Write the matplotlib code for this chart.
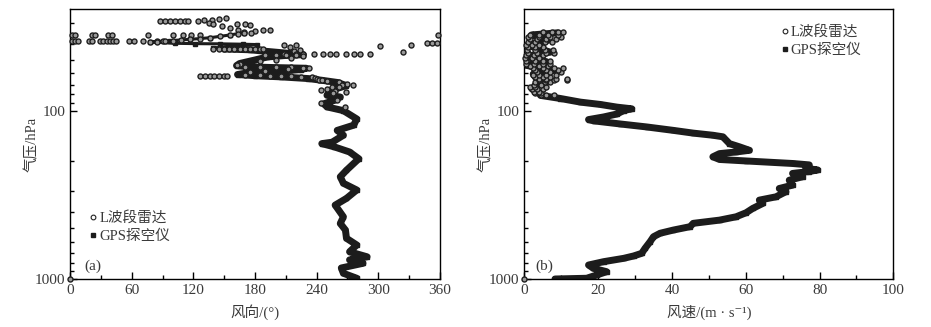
import numpy as np
import matplotlib
matplotlib.use("Agg")
import matplotlib.pyplot as plt
from matplotlib.ticker import FixedLocator, NullFormatter
from matplotlib.lines import Line2D

plt.rcParams['font.family'] = ['Liberation Serif', 'DejaVu Serif', 'Noto Sans CJK SC']

# ---- (a) wind direction ----
# GPS main band (thick)
gps_p_a = [1000, 990, 925, 860, 807, 770, 738, 689, 628, 573, 512, 468, 427, 364, 332, 296, 270,
           247, 226, 193, 176, 164, 157, 154, 140, 131, 122, 112, 100, 95, 91, 87, 83, 81, 76, 71,
           68, 66, 64.5, 63, 62, 61, 60, 58.5, 57, 56, 55.5, 55, 54, 52.5, 50, 48, 47, 46.5, 45.5,
           44.5, 43.5, 43]
gps_dir_a = [276, 279, 266, 264, 285, 272, 289, 272, 279, 269, 268, 263, 266, 258, 269, 279, 266,
             263, 269, 281, 272, 257, 245, 255, 266, 260, 276, 279, 266, 250, 247, 257, 263, 250,
             253, 269, 260, 245, 232, 205, 180, 163, 170, 200, 225, 230, 200, 175, 162, 165, 180,
             192, 210, 227, 210, 192, 175, 150]
# GPS upper part (thin)
gps_top_p_a = [43, 42.5, 41.5, 40.5, 40.3, 40.1, 40, 39.8, 39.1, 38.4, 37.7, 36.9, 35.5, 34.4]
gps_top_dir_a = [150, 139, 160, 182, 168, 146, 122, 102, 78, 97, 117, 136, 156, 169]

radar_p_a = [1000,
             29.5, 29.5, 29.5, 29.5, 29.5, 29.5, 29.5, 29.5,
             28.3, 28.5, 28.8, 29, 30, 30.5, 31.5, 32.5, 33.2, 34.1, 33.5, 33.3, 33, 30.5, 30.5, 31, 34.5,
             35.7, 35.7, 35.7, 35.7, 35.7, 35.7, 35.7, 35.7, 35.7, 35.7, 35.7, 35.5,
             38.8, 38.8, 38.8, 38.8, 38.8, 38.8, 38.8, 38.8, 38.8, 38.8, 38.8, 38.8, 38.8, 38.8, 38.6, 38.6,
             39.1, 38.9, 38.7, 38.4, 38.1, 37.7, 37.3, 36.9, 36.2, 35.5, 35, 34.4,
             39.7, 39.5, 39.7, 40.9, 41.2, 44.9, 40.9, 40.9, 42, 44, 43.5,
             45.9, 45.9, 45.9, 45.9, 45.9, 45.9, 45.9, 45.9, 45.9, 45.9, 45.9,
             43.3, 43.3, 43.3, 43.3, 43.3, 43.3, 43.3, 43.3, 43.3, 43.3, 43.3,
             62, 62, 62, 62, 62, 62, 62,
             47, 47, 47, 47, 47.5, 49, 50, 51, 52.6, 53.5, 55, 55, 55, 55, 55.5, 56, 56.5, 58.5, 59,
             61.5, 61.5, 62, 62, 62.5, 63, 63, 64, 64.5, 65.5, 66, 67, 68, 69, 70, 72, 74, 76, 77.4,
             70, 72, 75, 79, 86, 90, 95]
radar_dir_a = [0,
               88, 92, 97, 102, 107, 112, 115, 125,
               152, 145, 138, 130, 135, 139, 148, 156, 163, 169, 180, 188, 195, 162, 170, 175, 176,
               2, 5, 21, 24, 37, 41, 76, 100, 110, 118, 126, 358,
               1.6, 5, 8, 18, 21, 29, 32, 36, 39, 42, 45, 57, 62, 71, 85, 90,
               78, 85, 92, 100, 108, 117, 126, 136, 146, 156, 163, 169,
               347, 352, 357, 332, 302, 324, 208, 220, 214, 218, 224,
               208, 220, 227, 237, 246, 253, 259, 269, 276, 282, 292,
               139, 145, 150, 155, 160, 165, 170, 175, 180, 185, 188,
               126, 131, 136, 140, 145, 150, 153,
               190, 200, 210, 220, 227, 215, 200, 185, 165, 162, 170, 185, 200, 215, 233, 227, 212, 190, 175,
               170, 185, 195, 205, 215, 225, 235, 238, 240, 242, 245, 250, 262, 270, 265, 255, 250, 258, 269,
               275, 262, 244, 256, 260, 244, 268]

# ---- (b) wind speed ----
gps_p_b = [1000, 990, 947, 905, 864, 826, 789, 754, 730, 704, 658, 600, 561, 535, 512, 489, 467,
           447, 427, 404, 381, 356, 340, 325, 303, 290, 277, 259, 247, 236, 230, 225, 220, 210, 206,
           199, 195, 188, 180, 176, 172, 164, 157, 143, 140, 136, 131, 125, 120, 115, 113, 109, 104.7,
           100, 97.5, 95.3, 91.9, 89, 84.7, 81.2, 79.3, 74, 70, 66, 63, 60.6, 57.7, 53.8, 51.2, 47.6,
           44.9, 40.9, 38.1, 35.5, 34.5]
gps_spd_b = [8.3, 16.9, 19.6, 22.3, 18.7, 17.4, 21.5, 26.9, 29.6, 31.8, 32.7, 34.1, 35.0, 36.8, 40.4,
             44.9, 45.8, 52.9, 57.4, 60.1, 61.9, 64.6, 63.7, 68.2, 70.9, 69.1, 72.7, 71.8, 75.4, 72.7,
             77.2, 79.5, 76.3, 77.2, 72.7, 60.1, 52.9, 51.1, 52.9, 57.4, 61.0, 58.3, 55.6, 53.8, 51.1,
             45.8, 40.4, 33.2, 26.0, 18.8, 17.4, 21.5, 25.1, 26.9, 29.1, 25.1, 20.6, 15.2, 9.8, 4.4,
             4.3, 2.0, 4.0, 7.0, 3.0, 2.4, 8.0, 0.5, 6.0, 0.5, 7.0, 0.8, 6.5, 2.0, 9.0]

radar_p_b = [1000,
             81, 81, 81, 79, 79, 77, 77, 74, 74, 74, 72, 72, 72, 70, 70, 68, 68, 68,
             66, 66, 66, 66, 64.5, 64.5, 64.5, 64.5, 63, 63, 63, 61, 61, 61, 61, 59, 59, 59,
             57.5, 57.5, 57.5, 56, 56, 56, 56, 54.5, 54.5, 54.5, 53, 53, 53, 53, 51, 51, 51, 51,
             49, 49, 49, 47, 47, 47, 45.5, 45.5, 45.5, 45.5, 43.8, 43.8, 43.8, 43.8, 42, 42, 42,
             40.5, 40.5, 40.5, 39, 39, 39, 39, 37.5, 37.5, 37.5, 37.5, 36.5, 36.5, 36.5, 36.5,
             35.5, 35.5, 35.5, 35.5, 34.1, 34.1, 34.1, 34.1]
radar_spd_b = [0,
               4.4, 6, 8, 3, 4.5, 2.5, 4, 2, 3.5, 5, 1.5, 3, 5.9, 2.5, 4.5, 3, 5.5, 7,
               4, 6, 8, 11.6, 4, 6, 8.5, 11.5, 3, 5, 7, 2.4, 4, 6, 8.5, 3.5, 7, 10,
               3, 6, 9, 2.4, 5, 8, 10.6, 1.5, 4, 6.5, 0.5, 2.5, 5, 6.9, 0.5, 3, 5, 7,
               0.3, 2, 4, 0.5, 2.5, 5, 1, 3.5, 6, 8, 0.6, 3, 5.5, 7.9, 1, 3, 5,
               0.5, 2, 4, 1, 3, 5.5, 7.5, 1.5, 3.5, 6, 8.5, 1, 4, 7, 10,
               1.5, 4, 6.5, 9, 5, 7.5, 9, 10.6]

txt_col = '#3a3a3a'
ink = '#1c1c1c'


def style_axes(ax, xmax, xmajor, xminor, xlabel):
    ax.set_yscale('log')
    ax.set_ylim(1000, 25)
    ax.set_xlim(0, xmax)
    ax.yaxis.set_major_locator(FixedLocator([100, 1000]))
    ax.set_yticklabels(['100', '1000'])
    ax.yaxis.set_minor_locator(FixedLocator([30, 40, 50, 60, 70, 80, 90,
                                             200, 300, 400, 500, 600, 700, 800, 900]))
    ax.yaxis.set_minor_formatter(NullFormatter())
    ax.set_xticks(xmajor)
    ax.set_xticks(xminor, minor=True)
    ax.tick_params(which='both', direction='in', top=False, right=False,
                   labelsize=11, colors='black', labelcolor=txt_col)
    ax.tick_params(which='major', length=5, width=1)
    ax.tick_params(which='minor', length=3, width=1)
    ax.set_xlabel(xlabel, fontsize=10.5, color=txt_col, labelpad=5.5)
    ax.set_ylabel('气压/hPa', fontsize=10.5, color=txt_col, labelpad=-3)
    for s in ax.spines.values():
        s.set_linewidth(1.0)


def draw(ax, gp, gv, rp, rv):
    ax.plot(gv, gp, '-', color=ink, lw=5, solid_joinstyle='round', solid_capstyle='round', zorder=2)
    ax.plot(gv, gp, 's', color=ink, ms=2.5, zorder=2)
    ax.plot(rv, rp, 'o', mfc='#9a9a9a', mec='#1e1e1e', mew=1.0, ms=3.6, zorder=3, clip_on=False)


fig = plt.figure(figsize=(9.31, 3.27), dpi=100)
ax1 = fig.add_axes([0.0752, 0.1468, 0.3974, 0.8248])
ax2 = fig.add_axes([0.5632, 0.1468, 0.3963, 0.8248])

draw(ax1, gps_p_a, gps_dir_a, radar_p_a, radar_dir_a)
ax1.plot(gps_top_dir_a, gps_top_p_a, '-s', color=ink, lw=2.2, ms=2.5, zorder=2)
style_axes(ax1, 360, [0, 60, 120, 180, 240, 300, 360], [30, 90, 150, 210, 270, 330], '风向/(°)')

draw(ax2, gps_p_b, gps_spd_b, radar_p_b, radar_spd_b)
style_axes(ax2, 100, [0, 20, 40, 60, 80, 100], [10, 30, 50, 70, 90], '风速/(m · s⁻¹)')

handles = [Line2D([], [], ls='none', marker='o', mfc='white', mec='#222222', mew=0.8, ms=3.4),
           Line2D([], [], ls='none', marker='s', color=ink, ms=3)]
labels = ['L波段雷达', 'GPS探空仪']
ax1.legend(handles, labels, loc='lower left', bbox_to_anchor=(0.02, 0.085), frameon=False,
           fontsize=10.5, handlelength=0.4, handletextpad=0.2, labelspacing=0.3, labelcolor=txt_col)
ax2.legend(handles, labels, loc='upper right', bbox_to_anchor=(0.95, 0.99), frameon=False,
           fontsize=10.5, handlelength=0.4, handletextpad=0.2, labelspacing=0.3, labelcolor=txt_col)

ax1.text(0.04, 0.035, '(a)', transform=ax1.transAxes, fontsize=11, color=txt_col)
ax2.text(0.03, 0.035, '(b)', transform=ax2.transAxes, fontsize=11, color=txt_col)

fig.savefig('out.png', dpi=100)
